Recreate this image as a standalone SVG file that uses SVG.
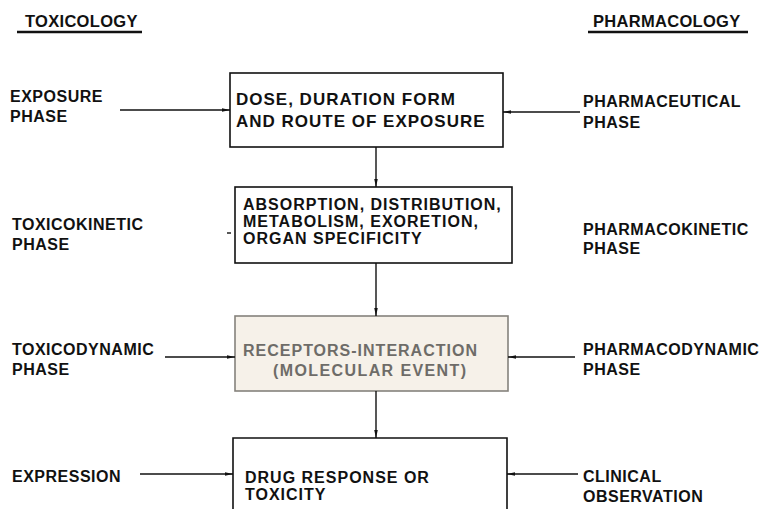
<svg xmlns="http://www.w3.org/2000/svg" width="768" height="509" viewBox="0 0 768 509">
<defs>
<marker id="ah" viewBox="0 0 10 6" refX="10" refY="3" markerWidth="8" markerHeight="5" markerUnits="userSpaceOnUse" orient="auto">
<path d="M0,0.8 L10,3 L0,5.2 z" fill="#111"/>
</marker>
<style>
text{font-family:"Liberation Sans",Arial,sans-serif;font-weight:bold;fill:#111;font-size:16px;letter-spacing:0.5px}
.title{font-size:16.5px;letter-spacing:0.3px}
.bx{font-size:16px;letter-spacing:1px}
.bx1{font-size:17px;letter-spacing:1px}
.gray{fill:#6e6c68}
.box{fill:#fff;stroke:#111;stroke-width:1.6}
.bg{fill:#f6f1e9;stroke:#85827c;stroke-width:1.6}
.c{stroke:#111;stroke-width:1.4;fill:none}
.u{stroke:#111;stroke-width:2.4}
</style>
</defs>
<rect width="768" height="509" fill="#fff"/>
<g id="titles">
<text class="title" x="25" y="27">TOXICOLOGY</text>
<line class="u" x1="17" y1="32" x2="142" y2="32"/>
<text class="title" x="593" y="27">PHARMACOLOGY</text>
<line class="u" x1="588" y1="32" x2="748" y2="32"/>
</g>
<g id="labels-left">
<text x="10" y="102">EXPOSURE</text><text x="10" y="122">PHASE</text>
<text x="12" y="230">TOXICOKINETIC</text><text x="12" y="250">PHASE</text>
<text x="12" y="355">TOXICODYNAMIC</text><text x="12" y="375">PHASE</text>
<text x="12" y="482">EXPRESSION</text>
</g>
<g id="labels-right">
<text x="583" y="107">PHARMACEUTICAL</text><text x="583" y="128">PHASE</text>
<text x="583" y="235">PHARMACOKINETIC</text><text x="583" y="254">PHASE</text>
<text x="583" y="355">PHARMACODYNAMIC</text><text x="583" y="375">PHASE</text>
<text x="583" y="482">CLINICAL</text><text x="583" y="502">OBSERVATION</text>
</g>
<g id="node-dose">
<rect class="box" x="230" y="73" width="273" height="74"/>
<text class="bx1" x="236" y="105">DOSE, DURATION FORM</text>
<text class="bx1" x="236" y="127">AND ROUTE OF EXPOSURE</text>
</g>
<g id="node-adme">
<rect class="box" x="235" y="187" width="277" height="76"/>
<text class="bx" x="243" y="210">ABSORPTION, DISTRIBUTION,</text>
<text class="bx" x="243" y="227">METABOLISM, EXORETION,</text>
<text class="bx" x="243" y="244">ORGAN SPECIFICITY</text>
</g>
<g id="node-receptor">
<rect class="bg" x="235" y="316" width="273" height="75"/>
<text class="bx gray" x="243" y="356">RECEPTORS-INTERACTION</text>
<text class="bx gray" x="273" y="376" style="letter-spacing:1.4px">(MOLECULAR EVENT)</text>
</g>
<g id="node-response">
<path class="box" d="M233,512 L233,438 L507,438 L507,512"/>
<text class="bx" x="245" y="483">DRUG RESPONSE OR</text>
<text class="bx" x="245" y="500">TOXICITY</text>
</g>
<g id="connectors">
<line class="c" x1="120" y1="110" x2="230" y2="110" marker-end="url(#ah)"/>
<line class="c" x1="580" y1="112" x2="503" y2="112" marker-end="url(#ah)"/>
<line class="c" x1="376" y1="147" x2="376" y2="187" marker-end="url(#ah)"/>
<line class="c" x1="227" y1="233" x2="231" y2="233"/>
<line class="c" x1="376" y1="263" x2="376" y2="316" marker-end="url(#ah)"/>
<line class="c" x1="165" y1="357" x2="235" y2="357" marker-end="url(#ah)"/>
<line class="c" x1="575" y1="357" x2="508" y2="357" marker-end="url(#ah)"/>
<line class="c" x1="376" y1="391" x2="376" y2="438" marker-end="url(#ah)"/>
<line class="c" x1="140" y1="474" x2="233" y2="474" marker-end="url(#ah)"/>
<line class="c" x1="578" y1="474" x2="507" y2="474" marker-end="url(#ah)"/>
</g>
</svg>
